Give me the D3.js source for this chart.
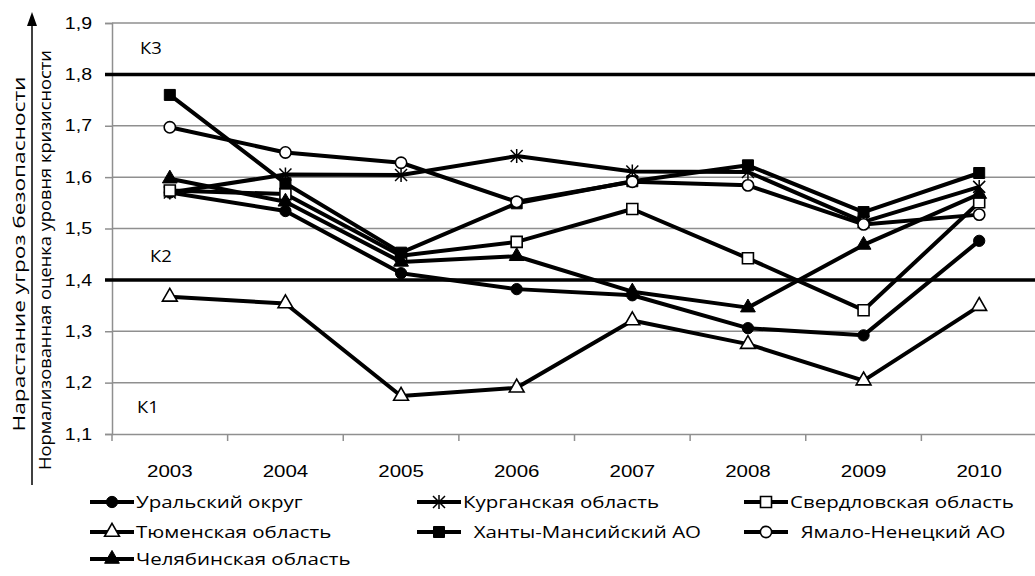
<!DOCTYPE html>
<html>
<head>
<meta charset="utf-8">
<script src="https://cdn.jsdelivr.net/npm/d3@7"></script>
<style>
  body { margin: 0; background: #fff; }
  svg { font-family: "Open Sans", "Noto Sans", sans-serif; }
  text { fill: #000; white-space: pre; }
</style>
</head>
<body>
<div id="chart"></div>
<script>
const width = 1035, height = 576;

// data
const years = [2003, 2004, 2005, 2006, 2007, 2008, 2009, 2010];
const yTicks = [1.1, 1.2, 1.3, 1.4, 1.5, 1.6, 1.7, 1.8, 1.9];
const ural   = [1.570, 1.534, 1.413, 1.382, 1.370, 1.306, 1.292, 1.476];
const kurgan = [1.570, 1.605, 1.604, 1.641, 1.611, 1.610, 1.513, 1.581];
const sverd  = [1.574, 1.567, 1.447, 1.474, 1.538, 1.442, 1.341, 1.551];
const tyumen = [1.367, 1.354, 1.174, 1.190, 1.321, 1.275, 1.204, 1.349];
const khanty = [1.760, 1.588, 1.453, 1.549, 1.592, 1.623, 1.532, 1.608];
const yamal  = [1.697, 1.648, 1.628, 1.552, 1.591, 1.584, 1.508, 1.527];
const chel   = [1.597, 1.552, 1.435, 1.446, 1.377, 1.346, 1.468, 1.567];
const seriesNames = ["Уральский округ", "Курганская область", "Свердловская область",
  "Тюменская область", "  Ханты-Мансийский АО", "  Ямало-Ненецкий АО", "Челябинская область"];
const zoneLevels = [1.4, 1.8];
const zoneLabels = [{ text: "К3", v: 1.85 }, { text: "К2", v: 1.445 }, { text: "К1", v: 1.152 }];
const axisTitles = ["Нарастание угроз безопасности", "Нормализованная оценка уровня кризисности"];

const series = [
  { name: seriesNames[0], values: ural,   marker: "circle",   fill: "#000" },
  { name: seriesNames[1], values: kurgan, marker: "star",     fill: "none" },
  { name: seriesNames[2], values: sverd,  marker: "square",   fill: "#fff" },
  { name: seriesNames[3], values: tyumen, marker: "triangle", fill: "#fff" },
  { name: seriesNames[4], values: khanty, marker: "square",   fill: "#000" },
  { name: seriesNames[5], values: yamal,  marker: "circle",   fill: "#fff" },
  { name: seriesNames[6], values: chel,   marker: "triangle", fill: "#000" }
];

// the original font runs wider than Open Sans, so widen the glyphs a bit
function stretch(sel, k) {
  sel.each(function() {
    const len = this.getComputedTextLength();
    d3.select(this).attr("textLength", len * k).attr("lengthAdjust", "spacingAndGlyphs");
  });
}

const svg = d3.select("#chart").append("svg")
  .attr("width", width)
  .attr("height", height);

const x = d3.scaleBand().domain(years).range([112, 1037]);
const y = d3.scaleLinear().domain([1.1, 1.9]).range([434, 23]);
const cx = d => x(d) + x.bandwidth() / 2;

// gridlines
svg.append("g").selectAll("line")
  .data(yTicks.slice(1))
  .enter().append("line")
  .attr("x1", 112).attr("x2", width)
  .attr("y1", d => y(d)).attr("y2", d => y(d))
  .attr("stroke", "#8f8f8f").attr("stroke-width", 1.5);

// y axis
const yAxis = svg.append("g")
  .attr("transform", "translate(112,0)")
  .call(d3.axisLeft(y).tickValues(yTicks).tickSize(7).tickPadding(13)
    .tickFormat(d => d3.format(".1f")(d).replace(".", ",")));
yAxis.select(".domain").attr("stroke", "#8f8f8f").attr("stroke-width", 1.5);
yAxis.selectAll(".tick line").attr("stroke", "#8f8f8f").attr("stroke-width", 1.5);
yAxis.selectAll(".tick text").style("font-size", "16px").style("font-family", null)
  .call(stretch, 1.22);

// x axis (labels centered, ticks on band edges)
const xAxis = svg.append("g")
  .attr("transform", "translate(0,434)")
  .call(d3.axisBottom(x).tickSize(0).tickPadding(32));
xAxis.select(".domain").attr("stroke", "#8f8f8f").attr("stroke-width", 1.5);
xAxis.selectAll(".tick text").style("font-size", "16px").style("font-family", null)
  .call(stretch, 1.28);
xAxis.selectAll(".edge")
  .data(years.map(d => x(d)).concat([x.range()[1]]))
  .enter().append("line")
  .attr("x1", d => d).attr("x2", d => d)
  .attr("y1", 0).attr("y2", 7)
  .attr("stroke", "#8f8f8f").attr("stroke-width", 1.5);

// zone boundaries
svg.append("g").selectAll("line")
  .data(zoneLevels)
  .enter().append("line")
  .attr("x1", 105).attr("x2", width)
  .attr("y1", d => y(d)).attr("y2", d => y(d))
  .attr("stroke", "#000").attr("stroke-width", 3.5);

svg.append("g").selectAll("text")
  .data(zoneLabels)
  .enter().append("text")
  .attr("x", (d, i) => i === 1 ? 150 : i === 0 ? 140 : 137)
  .attr("y", d => y(d.v))
  .attr("dy", "0.35em")
  .style("font-size", "16px")
  .text(d => d.text)
  .call(stretch, 1.15);

// marker drawing
function drawMarker(g, s) {
  if (s.marker === "star") {
    g.append("path")
      .attr("d", "M0,-7V7M-6,-6L6,6M-6,6L6,-6")
      .attr("stroke", "#000").attr("stroke-width", 1.5).attr("fill", "none");
    return;
  }
  const type = s.marker === "circle" ? d3.symbolCircle
    : s.marker === "square" ? d3.symbolSquare : d3.symbolTriangle;
  const size = s.marker === "circle" ? 100 : s.marker === "square" ? 121 : 95;
  g.append("path")
    .attr("d", d3.symbol().type(type).size(size))
    .attr("fill", s.fill)
    .attr("stroke", "#000")
    .attr("stroke-width", s.fill === "#fff" ? 1.6 : 1);
}

const line = d3.line().x((d, i) => cx(years[i])).y(d => y(d));

const plot = svg.append("g");
series.forEach(s => {
  const g = plot.append("g");
  g.append("path")
    .datum(s.values)
    .attr("d", line)
    .attr("fill", "none")
    .attr("stroke", "#000")
    .attr("stroke-width", 4)
    .attr("stroke-linejoin", "round");
  s.values.forEach((v, i) => {
    const m = g.append("g").attr("transform", `translate(${cx(years[i])},${y(v)})`);
    drawMarker(m, s);
  });
});

// legend
const legCols = [112, 439, 766];
const legRows = [502, 532, 559];
series.forEach((s, i) => {
  const lx = legCols[i % 3], ly = legRows[Math.floor(i / 3)];
  const g = svg.append("g").attr("transform", `translate(${lx},${ly})`);
  g.append("line").attr("x1", -22).attr("x2", 22)
    .attr("stroke", "#000").attr("stroke-width", 4);
  drawMarker(g.append("g"), s);
  g.append("text")
    .attr("x", 24).attr("dy", "0.35em")
    .style("font-size", "16px")
    .text(s.name)
    .call(stretch, 1.28);
});

// vertical axis titles with arrow
svg.append("line")
  .attr("x1", 32).attr("x2", 32)
  .attr("y1", 485).attr("y2", 20)
  .attr("stroke", "#000").attr("stroke-width", 1.5);
svg.append("path")
  .attr("d", "M32,12L27,26L37,26Z")
  .attr("fill", "#000");

svg.append("text")
  .attr("transform", "translate(25,254) rotate(-90)")
  .attr("text-anchor", "middle")
  .style("font-size", "16px")
  .attr("textLength", 355).attr("lengthAdjust", "spacingAndGlyphs")
  .text(axisTitles[0]);
svg.append("text")
  .attr("transform", "translate(51,260) rotate(-90)")
  .attr("text-anchor", "middle")
  .style("font-size", "16px")
  .attr("textLength", 420).attr("lengthAdjust", "spacingAndGlyphs")
  .text(axisTitles[1]);
</script>
</body>
</html>
